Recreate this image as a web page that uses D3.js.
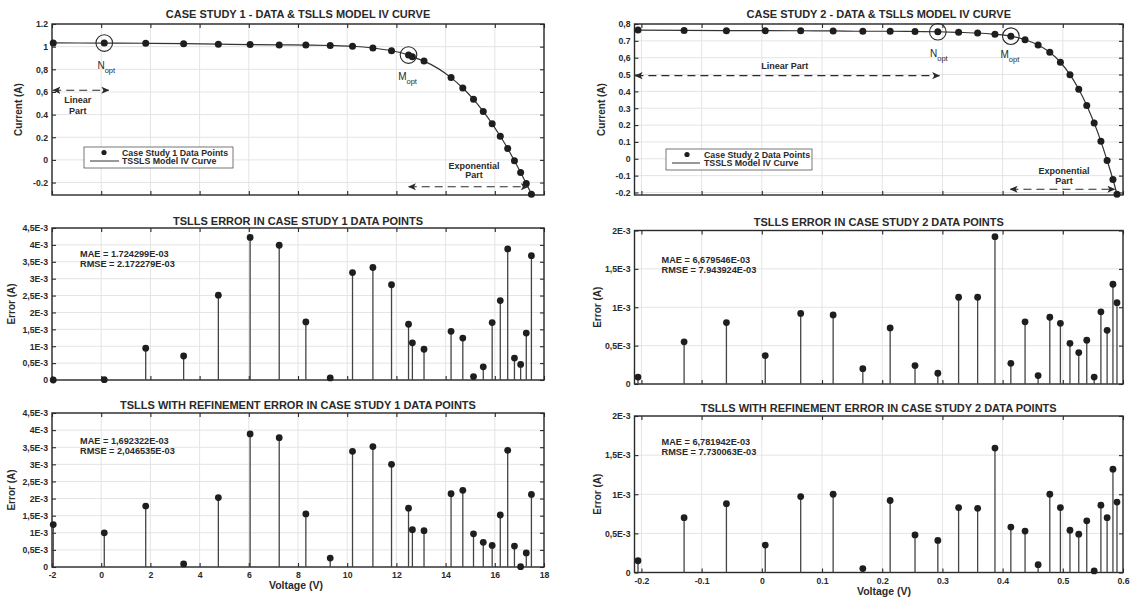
<!DOCTYPE html>
<html><head><meta charset="utf-8">
<script src="https://cdn.jsdelivr.net/npm/d3@7"></script>
<style>
body{margin:0;background:#fff}
svg text{font-family:"Liberation Sans",Arial,Helvetica,sans-serif;font-weight:bold;fill:#2a2a2a}
</style>
</head><body>
<svg id="c" width="1132" height="597"></svg>
<script>
// ---------- DATA ----------
const case1Voltage = [-1.95, 0.1248, 1.8093, 3.3511, 4.7622, 6.0538, 7.2364, 8.3189, 9.3097, 10.2163, 11.0449, 11.8018, 12.4929, 12.65, 13.1231, 14.2221, 14.6995, 15.1346, 15.5311, 15.8929, 16.2229, 16.5241, 16.7987, 17.0499, 17.2793, 17.4885];
const case1Current = [1.033, 1.0315, 1.03, 1.026, 1.022, 1.018, 1.0155, 1.014, 1.01, 1.0035, 0.988, 0.963, 0.9255, 0.91, 0.8725, 0.7265, 0.6345, 0.5345, 0.4275, 0.3185, 0.2085, 0.101, -0.008, -0.111, -0.209, -0.303];
const case1Error = [0.00, 0.01, 0.94, 0.71, 2.51, 4.22, 3.99, 1.72, 0.06, 3.18, 3.33, 2.82, 1.65, 1.10, 0.91, 1.44, 1.24, 0.10, 0.39, 1.70, 2.35, 3.88, 0.65, 0.46, 1.39, 3.68].map(v => v * 1e-3);
const case1ErrorRefined = [1.24, 1.00, 1.78, 0.09, 2.03, 3.89, 3.78, 1.55, 0.26, 3.38, 3.52, 3.00, 1.72, 1.09, 1.06, 2.14, 2.24, 0.97, 0.72, 0.63, 1.52, 3.41, 0.61, 0.01, 0.41, 2.12].map(v => v * 1e-3);

const case2Voltage = [-0.2057, -0.1291, -0.0588, 0.0057, 0.0646, 0.1185, 0.1678, 0.2132, 0.2545, 0.2924, 0.3269, 0.3585, 0.3873, 0.4137, 0.4373, 0.4590, 0.4784, 0.4960, 0.5119, 0.5265, 0.5398, 0.5521, 0.5633, 0.5736, 0.5833, 0.5900];
const case2Current = [0.7640, 0.7620, 0.7605, 0.7605, 0.7600, 0.7590, 0.7570, 0.7570, 0.7555, 0.7540, 0.7505, 0.7465, 0.7385, 0.7280, 0.7065, 0.6755, 0.6320, 0.5730, 0.4990, 0.4130, 0.3165, 0.2120, 0.1035, -0.0100, -0.1230, -0.2100];
const case2Error = [0.09, 0.55, 0.80, 0.37, 0.92, 0.90, 0.20, 0.73, 0.24, 0.14, 1.13, 1.13, 1.92, 0.27, 0.81, 0.11, 0.87, 0.79, 0.53, 0.41, 0.57, 0.09, 0.94, 0.70, 1.30, 1.06].map(v => v * 1e-3);
const case2ErrorRefined = [0.15, 0.70, 0.88, 0.35, 0.97, 1.00, 0.05, 0.92, 0.48, 0.41, 0.83, 0.82, 1.59, 0.58, 0.53, 0.10, 1.00, 0.83, 0.54, 0.49, 0.66, 0.02, 0.86, 0.70, 1.32, 0.90].map(v => v * 1e-3);

const case1XTicks = [-2, 0, 2, 4, 6, 8, 10, 12, 14, 16, 18];
const case1XLabels = ["-2", "0", "2", "4", "6", "8", "10", "12", "14", "16", "18"];
const case2XTicks = [-0.2, -0.1, 0, 0.1, 0.2, 0.3, 0.4, 0.5, 0.6];
const case2XLabels = ["-0.2", "-0.1", "0", "0.1", "0.2", "0.3", "0.4", "0.5", "0.6"];
const case1IVTicks = [-0.2, 0, 0.2, 0.4, 0.6, 0.8, 1, 1.2];
const case1IVLabels = ["-0.2", "0", "0.2", "0.4", "0,6", "0,8", "1", "1.2"];
const case2IVTicks = [-0.2, -0.1, 0, 0.1, 0.2, 0.3, 0.4, 0.5, 0.6, 0.7, 0.8];
const case2IVLabels = ["-0.2", "-0.1", "0", "0.1", "0.2", "0.3", "0.4", "0.5", "0,6", "0.7", "0,8"];
const case1ErrTicks = [0, 0.5e-3, 1e-3, 1.5e-3, 2e-3, 2.5e-3, 3e-3, 3.5e-3, 4e-3, 4.5e-3];
const case1ErrLabels = ["0", "0,5E-3", "1E-3", "1,5E-3", "2E-3", "2,5E-3", "3E-3", "3,5E-3", "4E-3", "4,5E-3"];
const case2ErrTicks = [0, 0.5e-3, 1e-3, 1.5e-3, 2e-3];
const case2ErrLabels = ["0", "0,5E-3", "1E-3", "1,5E-3", "2E-3"];

const titles = [
  "CASE STUDY 1 - DATA & TSLLS MODEL IV CURVE",
  "CASE STUDY 2 - DATA & TSLLS MODEL IV CURVE",
  "TSLLS ERROR IN CASE STUDY 1 DATA POINTS",
  "TSLLS ERROR IN CASE STUDY 2 DATA POINTS",
  "TSLLS WITH REFINEMENT ERROR IN CASE STUDY 1 DATA POINTS",
  "TSLLS WITH REFINEMENT ERROR IN CASE STUDY 2 DATA POINTS"
];
const statsText = [
  ["MAE = 1.724299E-03", "RMSE = 2.172279E-03"],
  ["MAE = 6,679546E-03", "RMSE = 7.943924E-03"],
  ["MAE = 1,692322E-03", "RMSE = 2,046535E-03"],
  ["MAE = 6,781942E-03", "RMSE = 7.730063E-03"]
];

// ---------- DRAWING ----------
const svg = d3.select('#c');
const INK = '#2a2a2a';
const defs = svg.append('defs');
defs.append('marker').attr('id', 'ah').attr('viewBox', '0 0 10 10')
  .attr('refX', 9).attr('refY', 5).attr('markerWidth', 8).attr('markerHeight', 8)
  .attr('markerUnits', 'userSpaceOnUse').attr('orient', 'auto-start-reverse')
  .append('path').attr('d', 'M0,0.5 L10,5 L0,9.5 L2.5,5 Z').attr('fill', INK);

function makePanel(o) {
  const x = d3.scaleLinear().domain(o.xDomain).range([o.left, o.right]);
  const y = d3.scaleLinear().domain(o.yDomain).range([o.bottom, o.top]);
  const g = svg.append('g');
  // grid
  g.append('g').selectAll('line').data(o.xTicks).join('line')
    .attr('x1', d => x(d)).attr('x2', d => x(d)).attr('y1', o.top).attr('y2', o.bottom)
    .attr('stroke', '#e4e4e4').attr('stroke-width', 1);
  g.append('g').selectAll('line').data(o.yTicks).join('line')
    .attr('x1', o.left).attr('x2', o.right).attr('y1', d => y(d)).attr('y2', d => y(d))
    .attr('stroke', '#e4e4e4').attr('stroke-width', 1);
  // axes
  const style = sel => {
    sel.select('.domain').remove();
    sel.selectAll('.tick line').attr('stroke', INK).attr('stroke-width', 1.1);
    sel.selectAll('.tick text').attr('fill', INK).style('font-size', '8.7px').style('font-family', null);
  };
  g.append('g').attr('transform', `translate(${o.left},0)`)
    .call(d3.axisLeft(y).tickValues(o.yTicks).tickFormat((d, i) => o.yLabels[i]).tickSize(-4).tickPadding(4)).call(style);
  g.append('g').attr('transform', `translate(${o.right},0)`)
    .call(d3.axisRight(y).tickValues(o.yTicks).tickFormat('').tickSize(-4)).call(style);
  g.append('g').attr('transform', `translate(0,${o.top})`)
    .call(d3.axisTop(x).tickValues(o.xTicks).tickFormat('').tickSize(-4)).call(style);
  g.append('g').attr('transform', `translate(0,${o.bottom})`)
    .call(d3.axisBottom(x).tickValues(o.xTicks).tickFormat((d, i) => o.showX ? o.xLabels[i] : '').tickSize(-4).tickPadding(5)).call(style);
  // frame
  g.append('rect').attr('x', o.left).attr('y', o.top).attr('width', o.right - o.left).attr('height', o.bottom - o.top)
    .attr('fill', 'none').attr('stroke', INK).attr('stroke-width', 1.4);
  // title
  g.append('text').attr('x', (o.left + o.right) / 2).attr('y', o.titleY).attr('text-anchor', 'middle')
    .style('font-size', '11px').text(o.title);
  // y label
  g.append('text').attr('transform', `translate(${o.yLabelX},${(o.top + o.bottom) / 2}) rotate(-90)`)
    .attr('text-anchor', 'middle').style('font-size', '10px').attr('fill', '#3a3a3a').text(o.yLabel);
  if (o.showX) {
    g.append('text').attr('x', o.xLabelX).attr('y', o.bottom + 22).attr('text-anchor', 'middle')
      .style('font-size', '10.5px').text('Voltage (V)');
  }
  return {g, x, y};
}

function stemPanel(o, xs, ys, stats) {
  const p = makePanel(o);
  const pts = xs.map((v, i) => ({v, e: ys[i]}));
  p.g.append('g').selectAll('line').data(pts).join('line')
    .attr('x1', d => p.x(d.v)).attr('x2', d => p.x(d.v)).attr('y1', p.y(0)).attr('y2', d => p.y(d.e))
    .attr('stroke', '#444').attr('stroke-width', 1.3);
  p.g.append('g').selectAll('circle').data(pts).join('circle')
    .attr('cx', d => p.x(d.v)).attr('cy', d => p.y(d.e)).attr('r', 3.4).attr('fill', '#1e1e1e');
  p.g.append('g').selectAll('text').data(stats).join('text')
    .attr('x', o.left + o.statsDx).attr('y', (d, i) => o.top + o.statsDy + i * 10)
    .style('font-size', '9.2px').text(d => d);
  return p;
}

function ivPanel(o, xs, ys, ann) {
  const p = makePanel(o);
  const pts = xs.map((v, i) => ({v, c: ys[i]}));
  p.g.append('path').datum(pts)
    .attr('d', d3.line().x(d => p.x(d.v)).y(d => p.y(d.c)).curve(d3.curveMonotoneX))
    .attr('fill', 'none').attr('stroke', '#333').attr('stroke-width', 1.2);
  p.g.append('g').selectAll('circle').data(pts).join('circle')
    .attr('cx', d => p.x(d.v)).attr('cy', d => p.y(d.c)).attr('r', 3.5).attr('fill', '#1e1e1e');
  // highlighted points
  ann.marks.forEach(m => {
    const cx = p.x(xs[m.idx]), cy = p.y(ys[m.idx]);
    p.g.append('circle').attr('cx', cx).attr('cy', cy).attr('r', 8.3)
      .attr('fill', 'none').attr('stroke', INK).attr('stroke-width', 1.1);
    const t = p.g.append('text').attr('x', cx + m.dx).attr('y', cy + m.dy).attr('text-anchor', 'middle')
      .style('font-size', '10px').style('font-weight', 'normal');
    t.append('tspan').text(m.letter);
    t.append('tspan').attr('dy', 4).style('font-size', '7.5px').text('opt');
  });
  // arrows
  ann.arrows.forEach(a => {
    p.g.append('line').attr('x1', p.x(a.x1)).attr('x2', p.x(a.x2)).attr('y1', p.y(a.yv)).attr('y2', p.y(a.yv))
      .attr('stroke', INK).attr('stroke-width', 1.2).attr('stroke-dasharray', '8,5')
      .attr('marker-start', 'url(#ah)').attr('marker-end', 'url(#ah)');
  });
  ann.texts.forEach(tx => {
    p.g.append('text').attr('x', p.x(tx.v)).attr('y', p.y(tx.c)).attr('text-anchor', 'middle')
      .style('font-size', '9px').text(tx.s);
  });
  // legend
  const L = ann.legend;
  const lg = p.g.append('g');
  lg.append('rect').attr('x', L.x).attr('y', L.y).attr('width', L.w).attr('height', 21)
    .attr('fill', '#fff').attr('stroke', '#555').attr('stroke-width', 0.8);
  lg.append('circle').attr('cx', L.x + L.mk).attr('cy', L.y + 5.5).attr('r', 2.6).attr('fill', '#1e1e1e');
  lg.append('line').attr('x1', L.x + 6).attr('x2', L.x + L.lineEnd).attr('y1', L.y + 14).attr('y2', L.y + 14)
    .attr('stroke', '#333').attr('stroke-width', 1);
  lg.append('text').attr('x', L.x + L.tx).attr('y', L.y + 8.7).style('font-size', '8.8px').text(L.label);
  lg.append('text').attr('x', L.x + L.tx).attr('y', L.y + 16.8).style('font-size', '8.8px').text('TSSLS Model IV Curve');
  return p;
}

const LEFT = {left: 52, right: 544, xDomain: [-2, 18], xTicks: case1XTicks, xLabels: case1XLabels, yLabelX: 22, xLabelX: 296};
const RIGHT = {left: 634.5, right: 1123, xDomain: [-0.2115, 0.6], xTicks: case2XTicks, xLabels: case2XLabels, yLabelX: 605, xLabelX: 884};

ivPanel(Object.assign({}, LEFT, {top: 24, bottom: 195, yDomain: [-0.31, 1.2], yTicks: case1IVTicks, yLabels: case1IVLabels,
  title: titles[0], titleY: 18, yLabel: 'Current (A)', showX: false}),
  case1Voltage, case1Current, {
    marks: [{idx: 1, letter: 'N', dx: 2, dy: 26}, {idx: 12, letter: 'M', dx: -1, dy: 25}],
    arrows: [{x1: -1.95, x2: 0.3, yv: 0.615}, {x1: 12.5, x2: 17.35, yv: -0.237}],
    texts: [{v: -0.95, c: 0.50, s: 'Linear'}, {v: -0.95, c: 0.405, s: 'Part'},
            {v: 15.15, c: -0.08, s: 'Exponential'}, {v: 15.15, c: -0.164, s: 'Part'}],
    legend: {x: 84, y: 147, w: 149, mk: 20, lineEnd: 35, tx: 38, label: 'Case Study 1 Data Points'}
  });

ivPanel(Object.assign({}, RIGHT, {top: 24, bottom: 195, yDomain: [-0.215, 0.8], yTicks: case2IVTicks, yLabels: case2IVLabels,
  title: titles[1], titleY: 18, yLabel: 'Current (A)', showX: false}),
  case2Voltage, case2Current, {
    marks: [{idx: 9, letter: 'N', dx: 1, dy: 25}, {idx: 13, letter: 'M', dx: -1, dy: 22}],
    arrows: [{x1: -0.21, x2: 0.295, yv: 0.493}, {x1: 0.413, x2: 0.586, yv: -0.181}],
    texts: [{v: 0.038, c: 0.535, s: 'Linear Part'},
            {v: 0.502, c: -0.09, s: 'Exponential'}, {v: 0.502, c: -0.15, s: 'Part'}],
    legend: {x: 666, y: 149, w: 146, mk: 21, lineEnd: 34, tx: 38, label: 'Case Study 2 Data Points'}
  });

stemPanel(Object.assign({}, LEFT, {top: 228, bottom: 380, yDomain: [0, 4.5e-3], yTicks: case1ErrTicks, yLabels: case1ErrLabels,
  title: titles[2], titleY: 225, yLabel: 'Error (A)', yLabelX: 15, showX: false, statsDx: 28, statsDy: 29}),
  case1Voltage, case1Error, statsText[0]);

stemPanel(Object.assign({}, RIGHT, {top: 230.5, bottom: 384, yDomain: [0, 2e-3], yTicks: case2ErrTicks, yLabels: case2ErrLabels,
  title: titles[3], titleY: 226, yLabel: 'Error (A)', yLabelX: 601, showX: false, statsDx: 27, statsDy: 32}),
  case2Voltage, case2Error, statsText[1]);

stemPanel(Object.assign({}, LEFT, {top: 413, bottom: 567, yDomain: [0, 4.5e-3], yTicks: case1ErrTicks, yLabels: case1ErrLabels,
  title: titles[4], titleY: 409, yLabel: 'Error (A)', yLabelX: 15, showX: true, statsDx: 28, statsDy: 31}),
  case1Voltage, case1ErrorRefined, statsText[2]);

stemPanel(Object.assign({}, RIGHT, {top: 416, bottom: 572.5, yDomain: [0, 2e-3], yTicks: case2ErrTicks, yLabels: case2ErrLabels,
  title: titles[5], titleY: 412, yLabel: 'Error (A)', yLabelX: 601, showX: true, statsDx: 27, statsDy: 29}),
  case2Voltage, case2ErrorRefined, statsText[3]);
</script>
</body></html>
